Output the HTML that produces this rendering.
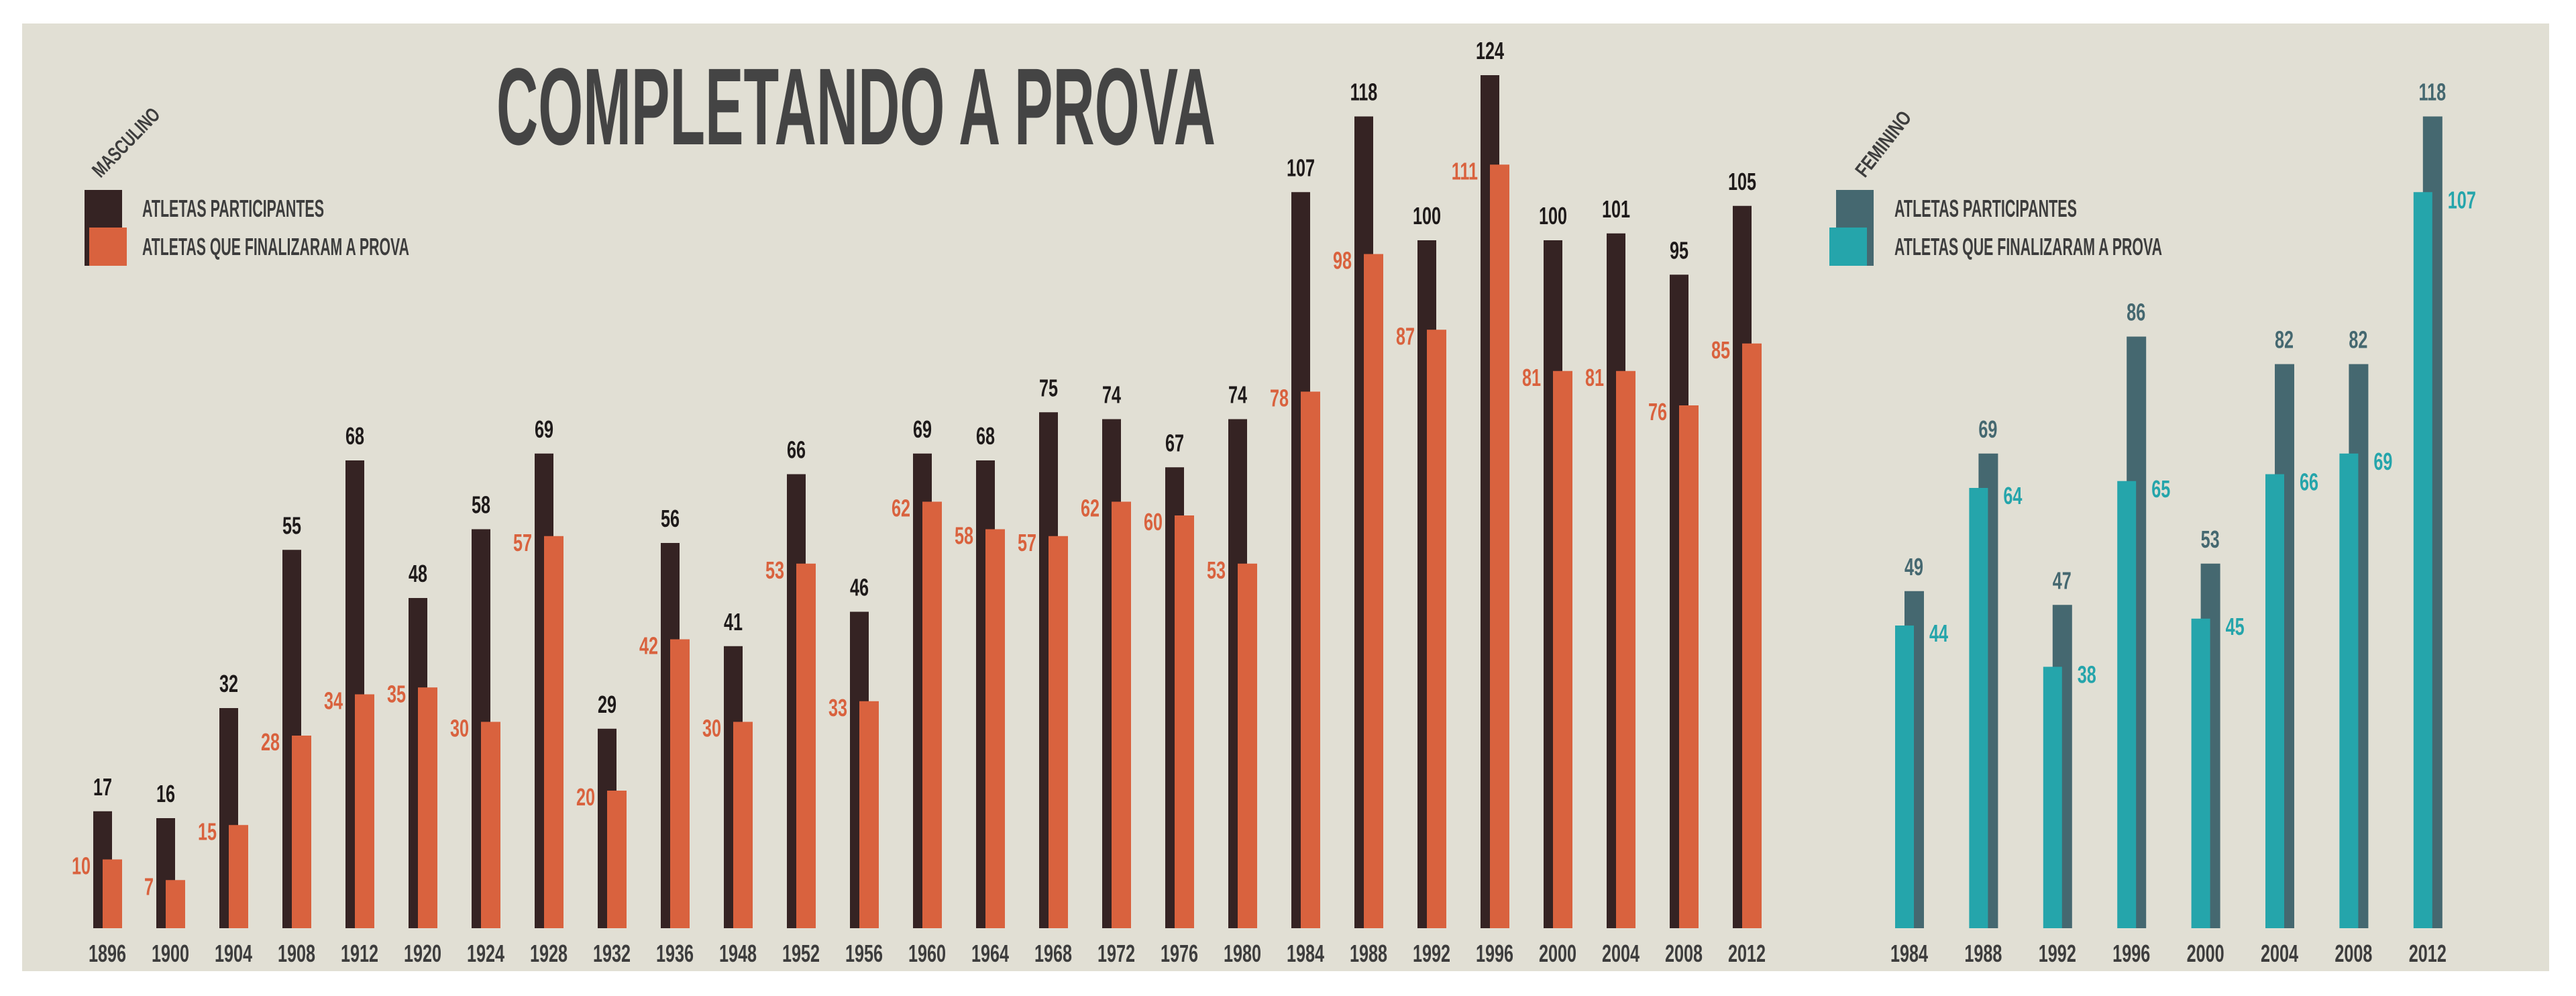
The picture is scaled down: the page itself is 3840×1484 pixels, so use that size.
<!DOCTYPE html>
<html><head><meta charset="utf-8"><style>
html,body{margin:0;padding:0;background:#fff;}
svg{display:block;}
text{font-family:"Liberation Sans",sans-serif;font-weight:bold;}
</style></head><body>
<svg id="chart" width="3840" height="1484" viewBox="0 0 3840 1484" xmlns="http://www.w3.org/2000/svg">
<rect x="33" y="35" width="3767" height="1412" fill="#e1dfd4"/>
<text x="740" y="215" font-size="163" fill="#444" textLength="1072" lengthAdjust="spacingAndGlyphs">COMPLETANDO A PROVA</text>
<g>
<text transform="translate(150,266) rotate(-46)" font-size="30" fill="#3d3d3d" textLength="130" lengthAdjust="spacingAndGlyphs">MASCULINO</text>
<rect x="126" y="283" width="56" height="113" fill="#352323"/>
<rect x="133" y="339" width="56" height="57" fill="#d9623e"/>
<text x="212" y="323" font-size="36" fill="#3d3d3d" textLength="271" lengthAdjust="spacingAndGlyphs">ATLETAS PARTICIPANTES</text>
<text x="212" y="380" font-size="36" fill="#3d3d3d" textLength="398" lengthAdjust="spacingAndGlyphs">ATLETAS QUE FINALIZARAM A PROVA</text>
</g>
<g>
<text transform="translate(2780,266) rotate(-52)" font-size="30" fill="#3d3d3d" textLength="115" lengthAdjust="spacingAndGlyphs">FEMININO</text>
<rect x="2737" y="283" width="56" height="113" fill="#456870"/>
<rect x="2727" y="339" width="56" height="57" fill="#25a5ab"/>
<text x="2824" y="323" font-size="36" fill="#3d3d3d" textLength="272" lengthAdjust="spacingAndGlyphs">ATLETAS PARTICIPANTES</text>
<text x="2824" y="380" font-size="36" fill="#3d3d3d" textLength="399" lengthAdjust="spacingAndGlyphs">ATLETAS QUE FINALIZARAM A PROVA</text>
</g>
<g id="bars"></g>
</svg>
<script>
const maleYears = ["1896","1900","1904","1908","1912","1920","1924","1928","1932","1936","1948","1952","1956","1960","1964","1968","1972","1976","1980","1984","1988","1992","1996","2000","2004","2008","2012"];
const maleParticipants = [17,16,32,55,68,48,58,69,29,56,41,66,46,69,68,75,74,67,74,107,118,100,124,100,101,95,105];
const maleFinished = [10,7,15,28,34,35,30,57,20,42,30,53,33,62,58,57,62,60,53,78,98,87,111,81,81,76,85];
const femaleYears = ["1984","1988","1992","1996","2000","2004","2008","2012"];
const femaleParticipants = [49,69,47,86,53,82,82,118];
const femaleFinished = [44,64,38,65,45,66,69,107];

const NS = "http://www.w3.org/2000/svg";
const g = document.getElementById("bars");
const baseY = 1383, unit = 10.25, barW = 28, off = 14, SX = 0.7;
function yScale(v){ return baseY - v*unit; }
function maleX(i){ return 139 + i*94; }
function femaleX(i){ return 2825 + i*110.4; }
function rect(x,y,w,h,fill,name){
  const r = document.createElementNS(NS,"rect");
  r.setAttribute("x",x); r.setAttribute("y",y); r.setAttribute("width",w); r.setAttribute("height",h);
  r.setAttribute("fill",fill);
  
  
  g.appendChild(r);
}
function label(x,y,txt,fill,anchor,size,name){
  const t = document.createElementNS(NS,"text");
  t.setAttribute("transform","translate("+x+","+y+") scale("+SX+",1)");
  t.setAttribute("text-anchor",anchor); t.setAttribute("font-size",size); t.setAttribute("fill",fill);
  t.textContent = txt;
  
  
  g.appendChild(t);
}
maleYears.forEach((yr,i)=>{
  const x = maleX(i);
  const p = maleParticipants[i], f = maleFinished[i];
  rect(x, yScale(p), barW, p*unit, "#352323", "male-participants-bar-"+yr);
  rect(x+off, yScale(f), barW+1, f*unit, "#d9623e", "male-finished-bar-"+yr);
  label(x+barW/2, yScale(p)-24, String(p), "#1e1a1a", "middle", 36, "male-participants-value-"+yr);
  label(x-4, yScale(f)+22, String(f), "#d9623e", "end", 36, "male-finished-value-"+yr);
  label(x+21, 1433, yr, "#3d3d3d", "middle", 36, "male-year-label-"+yr);
});
femaleYears.forEach((yr,i)=>{
  const x = femaleX(i);
  const p = femaleParticipants[i], f = femaleFinished[i];
  rect(x+off, yScale(p), barW+1, p*unit, "#456870", "female-participants-bar-"+yr);
  rect(x, yScale(f), barW, f*unit, "#25a5ab", "female-finished-bar-"+yr);
  label(x+off+barW/2, yScale(p)-24, String(p), "#456870", "middle", 36, "female-participants-value-"+yr);
  label(x+off+barW+9, yScale(f)+24, String(f), "#25a5ab", "start", 36, "female-finished-value-"+yr);
  label(x+21, 1433, yr, "#3d3d3d", "middle", 36, "female-year-label-"+yr);
});
</script>
</body></html>
